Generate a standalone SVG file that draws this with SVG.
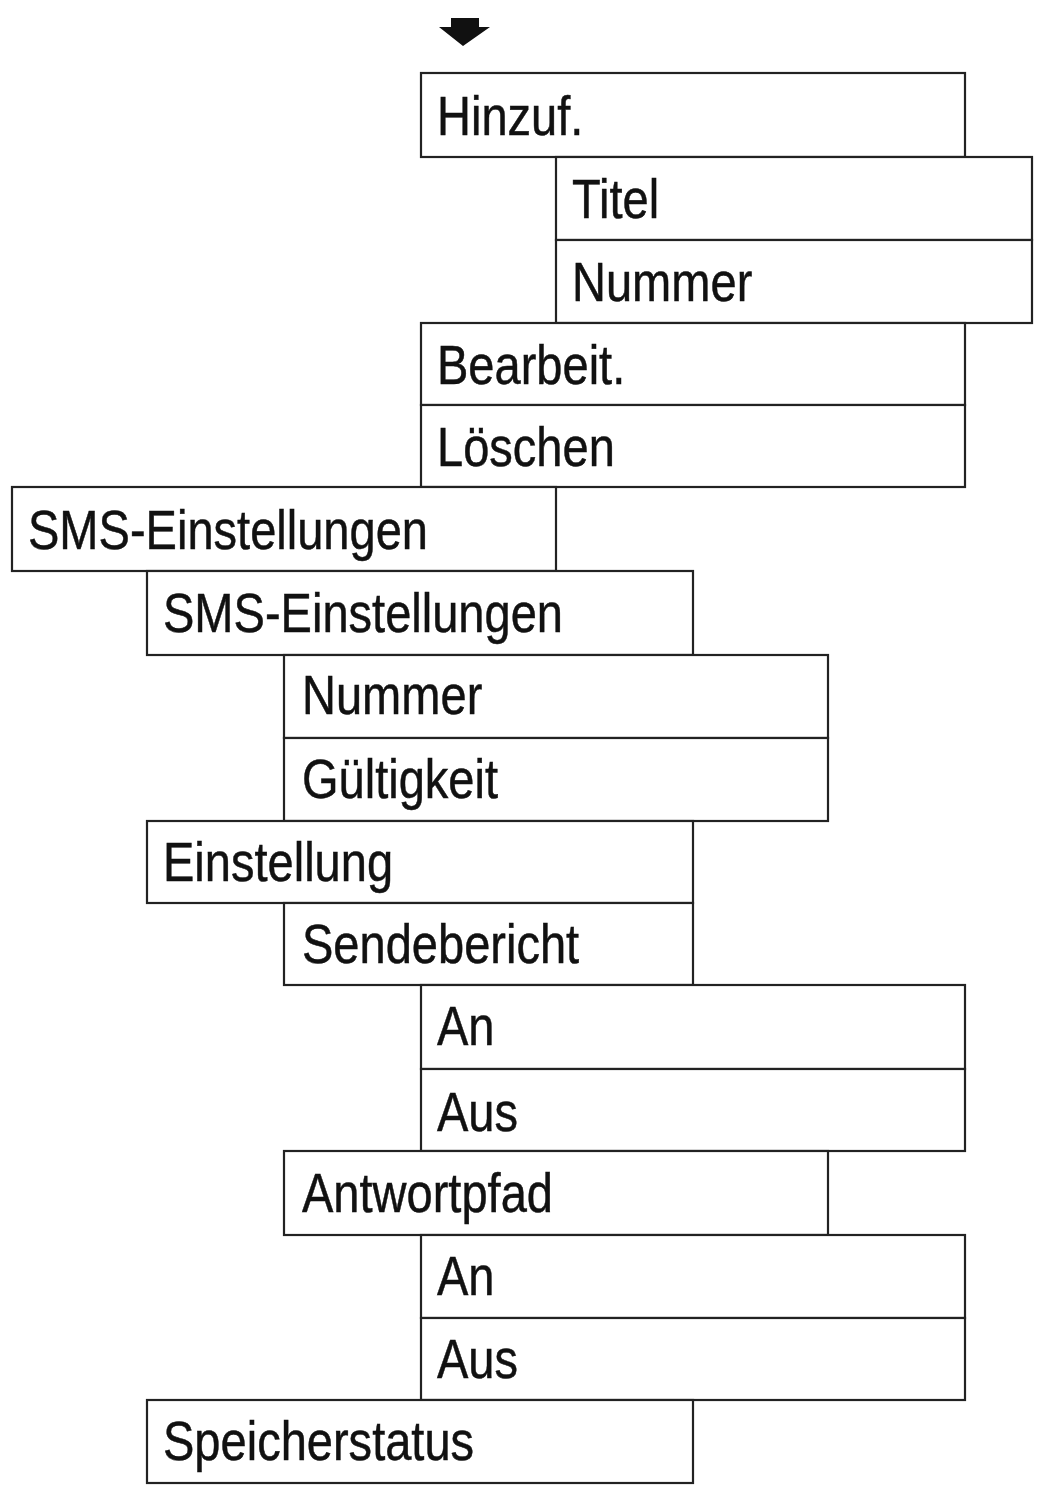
<svg xmlns="http://www.w3.org/2000/svg" width="1037" height="1490" viewBox="0 0 1037 1490">
<style>
.b{fill:#fff;stroke:#222;stroke-width:2.2}
.t{font-family:"Liberation Sans",Arial,sans-serif;font-size:56px;fill:#111;stroke:#111;stroke-width:0.5}
</style>
<rect width="1037" height="1490" fill="#fff"/>
<g id="connectors">
<polygon points="451,18 479,18 479,27 490,27 463,46 439,27 451,27" fill="#111"/>
</g>
<g id="n1"><rect class="b" x="421" y="73" width="544" height="84"/><text class="t" transform="translate(437,135) scale(0.84,1)">Hinzuf.</text></g>
<g id="n2"><rect class="b" x="556" y="157" width="476" height="83"/><text class="t" transform="translate(572,218) scale(0.84,1)">Titel</text></g>
<g id="n3"><rect class="b" x="556" y="240" width="476" height="83"/><text class="t" transform="translate(572,301) scale(0.84,1)">Nummer</text></g>
<g id="n4"><rect class="b" x="421" y="323" width="544" height="82"/><text class="t" transform="translate(437,384) scale(0.84,1)">Bearbeit.</text></g>
<g id="n5"><rect class="b" x="421" y="405" width="544" height="82"/><text class="t" transform="translate(437,466) scale(0.84,1)">Löschen</text></g>
<g id="n6"><rect class="b" x="12" y="487" width="544" height="84"/><text class="t" transform="translate(28,549) scale(0.84,1)">SMS-Einstellungen</text></g>
<g id="n7"><rect class="b" x="147" y="571" width="546" height="84"/><text class="t" transform="translate(163,632) scale(0.84,1)">SMS-Einstellungen</text></g>
<g id="n8"><rect class="b" x="284" y="655" width="544" height="83"/><text class="t" transform="translate(302,714) scale(0.84,1)">Nummer</text></g>
<g id="n9"><rect class="b" x="284" y="738" width="544" height="83"/><text class="t" transform="translate(302,798) scale(0.84,1)">Gültigkeit</text></g>
<g id="n10"><rect class="b" x="147" y="821" width="546" height="82"/><text class="t" transform="translate(163,881) scale(0.84,1)">Einstellung</text></g>
<g id="n11"><rect class="b" x="284" y="903" width="409" height="82"/><text class="t" transform="translate(302,963) scale(0.84,1)">Sendebericht</text></g>
<g id="n12"><rect class="b" x="421" y="985" width="544" height="84"/><text class="t" transform="translate(437,1045) scale(0.84,1)">An</text></g>
<g id="n13"><rect class="b" x="421" y="1069" width="544" height="82"/><text class="t" transform="translate(437,1131) scale(0.84,1)">Aus</text></g>
<g id="n14"><rect class="b" x="284" y="1151" width="544" height="84"/><text class="t" transform="translate(302,1212) scale(0.84,1)">Antwortpfad</text></g>
<g id="n15"><rect class="b" x="421" y="1235" width="544" height="83"/><text class="t" transform="translate(437,1295) scale(0.84,1)">An</text></g>
<g id="n16"><rect class="b" x="421" y="1318" width="544" height="82"/><text class="t" transform="translate(437,1378) scale(0.84,1)">Aus</text></g>
<g id="n17"><rect class="b" x="147" y="1400" width="546" height="83"/><text class="t" transform="translate(163,1460) scale(0.84,1)">Speicherstatus</text></g>
</svg>
